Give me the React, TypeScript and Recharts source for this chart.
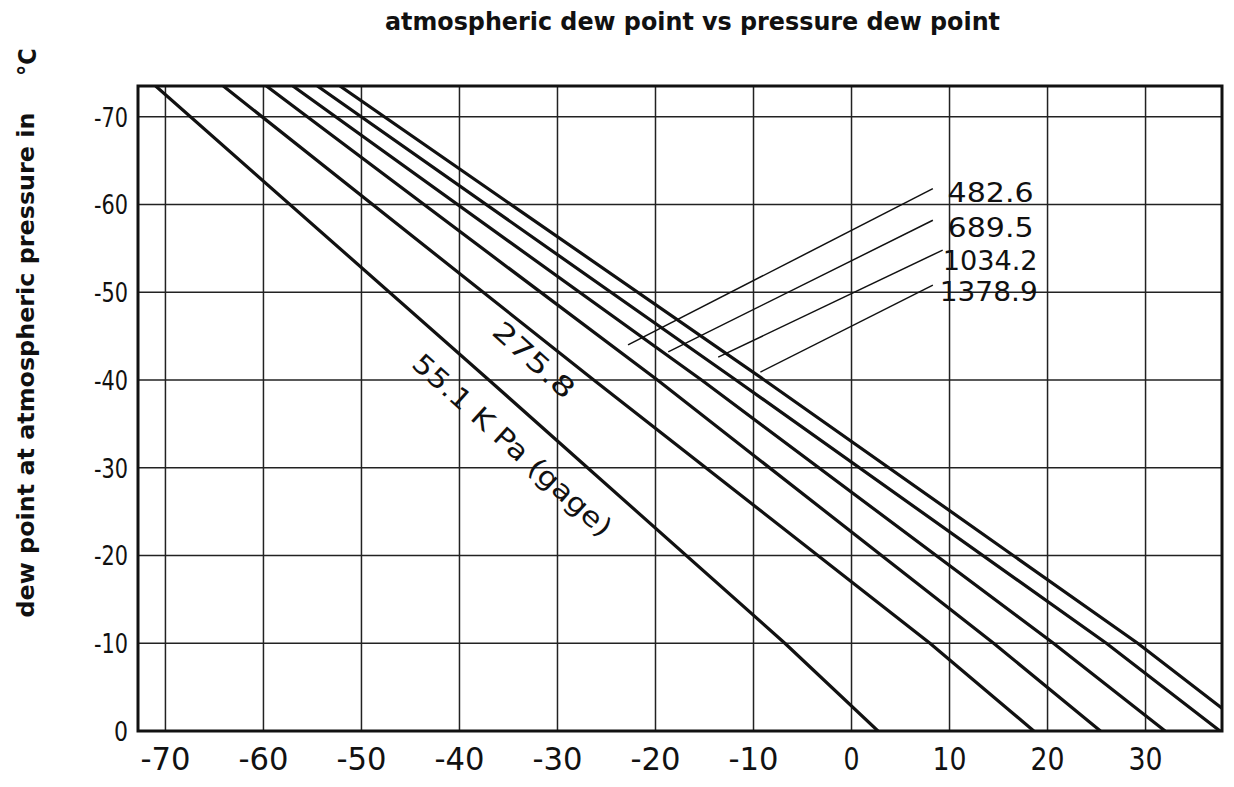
import React from "react";
import {
  LineChart,
  Line,
  CartesianGrid,
  XAxis,
  YAxis,
  ReferenceArea,
  ReferenceLine,
  ReferenceDot,
} from "recharts";

const atmY = [-73.5, -40, -10, 0];
// pressure dew point (x) for each gauge pressure, kPa
const kpa55 = [-71, -37, -6.8, 2.7];
const kpa276 = [-64.1, -26.3, 8, 18.6];
const kpa483 = [-59.7, -19.8, 14.5, 25.4];
const kpa690 = [-57, -15.3, 20.6, 32];
const kpa1034 = [-54.5, -11.8, 26, 37.6];
const kpa1379 = [-52.2, -8.9, 29.2, 37.8];
const kpa1379Y = [-73.5, -40, -10, -2.6];

const xTicks = [-70, -60, -50, -40, -30, -20, -10, 0, 10, 20, 30];
const yTicks = [-70, -60, -50, -40, -30, -20, -10, 0];

// labels with leader lines (right-hand side)
const leaderNames = ["482.6", "689.5", "1034.2", "1378.9"];
const leaderFrom = [
  { x: 8.3, y: -61.8 },
  { x: 8.3, y: -58.2 },
  { x: 9.3, y: -54.8 },
  { x: 8.3, y: -50.8 },
];
const leaderTo = [
  { x: -22.8, y: -44.0 },
  { x: -18.7, y: -43.2 },
  { x: -13.6, y: -42.6 },
  { x: -9.3, y: -40.9 },
];
const leaderText = [
  { x: 9.8, y: -61.3, w: 86 },
  { x: 9.8, y: -57.3, w: 86 },
  { x: 9.3, y: -53.6, w: 95 },
  { x: 9.0, y: -50.0, w: 98 },
];

// labels written along the curves
const curveText = [
  { text: "55.1 K Pa (gage)", x: -34.6, y: -32.6, w: 258 },
  { text: "275.8", x: -32.4, y: -42.3, w: 100 },
];

const FONT = "'Liberation Sans Narrow', 'DejaVu Sans Condensed', 'Liberation Sans', sans-serif";

const toPoints = (xs: number[], ys: number[]) => xs.map((x, i) => ({ x, y: ys[i] }));

const series = [
  toPoints(kpa55, atmY),
  toPoints(kpa276, atmY),
  toPoints(kpa483, atmY),
  toPoints(kpa690, atmY),
  toPoints(kpa1034, atmY),
  toPoints(kpa1379, kpa1379Y),
];

const XTick = (props: any) => {
  const v = props.payload.value;
  return (
    <text
      x={props.x}
      y={props.y + 31}
      textAnchor="middle"
      fontSize={32}
      fontFamily={FONT}
      textLength={v < 0 ? 50 : v === 0 ? 16 : 34}
      lengthAdjust="spacingAndGlyphs"
      fill="#111"
    >
      {v}
    </text>
  );
};

const YTick = (props: any) => {
  const v = props.payload.value;
  return (
    <text
      x={props.x - 2}
      y={props.y + 10}
      textAnchor="end"
      fontSize={27}
      fontFamily={FONT}
      textLength={v < 0 ? 34 : 14}
      lengthAdjust="spacingAndGlyphs"
      fill="#111"
    >
      {v}
    </text>
  );
};

const slanted = (text: string, w: number) => (props: any) => (
  <text
    x={props.cx}
    y={props.cy}
    transform={`rotate(42, ${props.cx}, ${props.cy})`}
    textAnchor="middle"
    dominantBaseline="central"
    fontSize={27}
    fontFamily={FONT}
    textLength={w}
    lengthAdjust="spacingAndGlyphs"
    fill="#111"
  >
    {text}
  </text>
);

const plain = (text: string, w: number) => (props: any) => (
  <text
    x={props.cx}
    y={props.cy}
    dominantBaseline="central"
    fontSize={26}
    fontFamily={FONT}
    textLength={w}
    lengthAdjust="spacingAndGlyphs"
    fill="#111"
  >
    {text}
  </text>
);

export default function App() {
  return (
    <div style={{ position: "absolute", left: 0, top: 0, width: 1234, height: 787, background: "#fff" }}>
      <LineChart width={1234} height={787} margin={{ top: 86, right: 12, bottom: 6, left: 68 }}>
        <CartesianGrid stroke="#222" strokeWidth={1.5} />
        <XAxis
          type="number"
          dataKey="x"
          domain={[-72.8, 37.8]}
          ticks={xTicks}
          allowDataOverflow
          axisLine={false}
          tickLine={false}
          height={50}
          tick={<XTick />}
        />
        <YAxis
          type="number"
          dataKey="y"
          domain={[-73.5, 0]}
          ticks={yTicks}
          reversed
          allowDataOverflow
          axisLine={false}
          tickLine={false}
          width={70}
          tick={<YTick />}
        />
        <ReferenceArea x1={-72.8} x2={37.8} y1={-73.5} y2={0} fill="none" stroke="#111" strokeWidth={3} />
        {series.map((pts, i) => (
          <Line
            key={i}
            data={pts}
            dataKey="y"
            type="linear"
            stroke="#111"
            strokeWidth={3.2}
            dot={false}
            isAnimationActive={false}
          />
        ))}
        {leaderNames.map((n, i) => (
          <ReferenceLine
            key={"l" + n}
            segment={[leaderFrom[i], leaderTo[i]]}
            stroke="#111"
            strokeWidth={1.5}
            ifOverflow="visible"
          />
        ))}
        {leaderNames.map((n, i) => (
          <ReferenceDot
            key={"t" + n}
            x={leaderText[i].x}
            y={leaderText[i].y}
            ifOverflow="visible"
            shape={plain(n, leaderText[i].w)}
          />
        ))}
        {curveText.map((c) => (
          <ReferenceDot key={c.text} x={c.x} y={c.y} ifOverflow="visible" shape={slanted(c.text, c.w)} />
        ))}
      </LineChart>
      <svg width={1234} height={787} style={{ position: "absolute", left: 0, top: 0, pointerEvents: "none" }}>
        <text
          x={385}
          y={30}
          fontSize={24}
          fontWeight="bold"
          fontFamily={FONT}
          textLength={615}
          lengthAdjust="spacingAndGlyphs"
          fill="#111"
        >
          atmospheric dew point vs pressure dew point
        </text>
        <text
          x={34}
          y={365}
          transform="rotate(-90, 34, 365)"
          textAnchor="middle"
          fontSize={23}
          fontWeight="bold"
          fontFamily={FONT}
          textLength={505}
          lengthAdjust="spacingAndGlyphs"
          fill="#111"
        >
          dew point at atmospheric pressure in
        </text>
        <text
          x={36}
          y={62}
          transform="rotate(-90, 36, 62)"
          textAnchor="middle"
          fontSize={25}
          fontWeight="bold"
          fontFamily={FONT}
          fill="#111"
        >
          °C
        </text>
      </svg>
    </div>
  );
}
